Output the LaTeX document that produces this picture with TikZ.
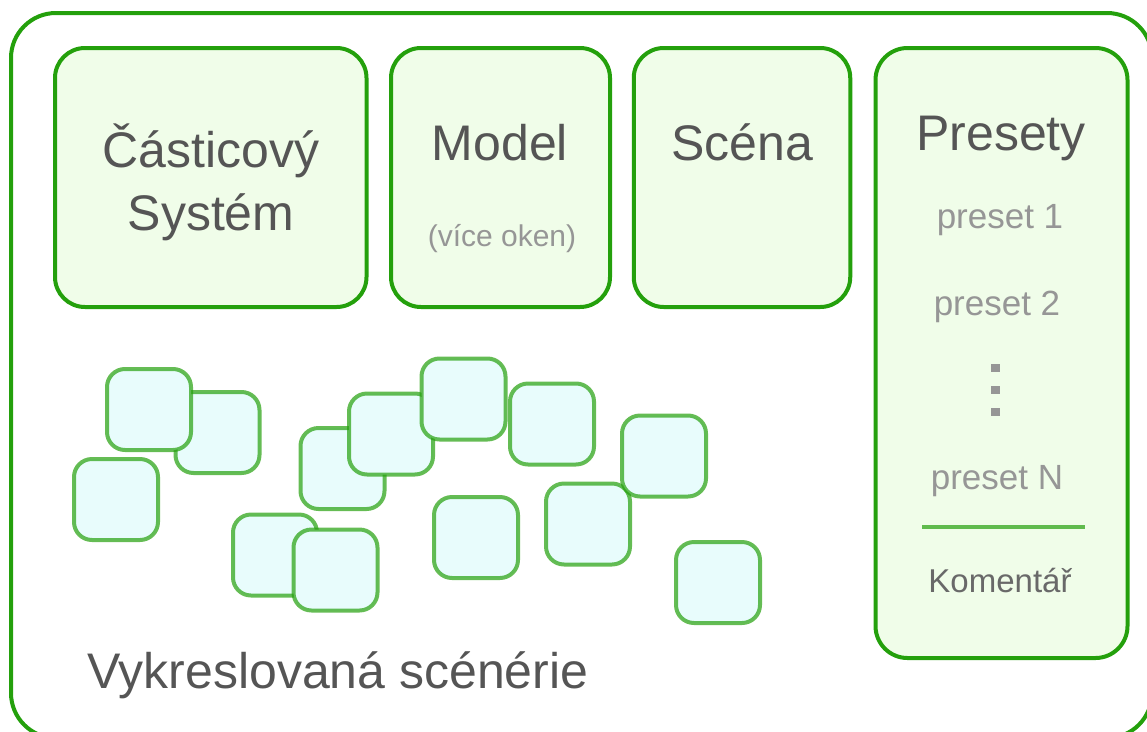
\documentclass[tikz,border=0pt]{standalone}
\usepackage{fontspec}
\setmainfont{Liberation Sans}
\usetikzlibrary{positioning}

\definecolor{frameGreen}{RGB}{36,160,12}
\definecolor{panelFill}{RGB}{240,253,233}
\definecolor{partFill}{RGB}{232,252,252}
\definecolor{labelGray}{RGB}{85,85,85}
\definecolor{lightGray}{RGB}{150,150,150}
\definecolor{noteGray}{RGB}{105,105,105}

\newcommand{\fs}[1]{\fontsize{#1}{#1}\selectfont}

\begin{document}
\begin{tikzpicture}[x=1pt, y=-1pt,
  panel/.style={draw=frameGreen, line width=4pt, fill=panelFill, rounded corners=30pt},
  particle/.style={draw=frameGreen, draw opacity=0.7, line width=4pt, fill=partFill,
                   rounded corners=18pt, minimum width=84pt, minimum height=81pt},
  title/.style={anchor=base, text=labelGray, inner sep=0pt, font=\fs{50}},
  entry/.style={anchor=base, text=lightGray, inner sep=0pt, font=\fs{35}}]
\useasboundingbox (0,0) rectangle (1147,731);
\clip (0,0) rectangle (1147,731);

% outer frame of the scene
\draw[draw=frameGreen, line width=4pt, rounded corners=45pt] (11,13) rectangle (1152,738);

% top panels
\node[panel, minimum width=311.5pt, minimum height=259pt] (system) at (210.75,177.5) {};
\node[panel, minimum width=219pt, minimum height=259pt] (model) at (500.5,177.5) {};
\node[panel, minimum width=216.5pt, minimum height=259pt] (scene) at (742,177.5) {};
\node[panel, rounded corners=32pt, minimum width=252pt, minimum height=610pt] (presets) at (1001.5,353) {};

\node[title] (sysA) at (211,167) {Částicový};
\node[title] (sysB) at (211,230) {Systém};
\node[title] (modelT) at (500,160) {Model};
\node[entry, font=\fs{30}] (modelN) at (502,246) {(více oken)};
\node[title] (sceneT) at (742,160) {Scéna};

% preset list
\node[title] (presetT) at (1001,150) {Presety};
\node[entry] (pre1) at (1000,228) {preset 1};
\node[entry] (pre2) at (997,315) {preset 2};
\foreach \y in {368,390,412}
  \fill[lightGray] (991,\y-4.3) rectangle (999.5,\y+4.3);
\node[entry] (preN) at (997,489) {preset N};
\draw[draw=frameGreen, draw opacity=0.7, line width=4pt] (922,527) -- (1085,527);
\node[entry, text=noteGray, font=\fs{33}] (note) at (1000,592) {Komentář};

% rendered particles, back to front
\foreach \x/\y [count=\i] in {217.5/432.5, 149/409.5, 116/499.5, 275/555, 335.5/570,
    342.5/468.5, 391/434, 463.5/399, 552/424, 476/537.5, 588/524, 664/456, 718/582.5}
  \node[particle] (p\i) at (\x,\y) {};

\node[title, anchor=base west] (sceneryT) at (87,688) {Vykreslovaná scénérie};
\end{tikzpicture}
\end{document}
